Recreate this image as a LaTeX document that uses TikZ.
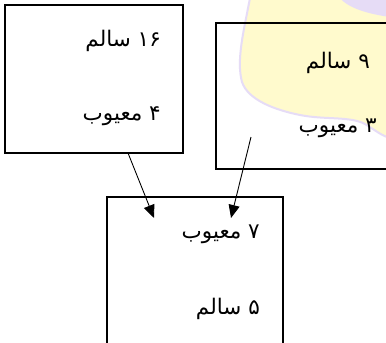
\documentclass[tikz,border=0pt]{standalone}
\usepackage{fontspec}
\usetikzlibrary{arrows.meta}
\TeXXeTstate=1
\newfontfamily\arabicfont[Script=Arabic]{DejaVu Sans}
\definecolor{wmyellow}{HTML}{FFFACD}
\definecolor{wmlav}{HTML}{E6DCF6}
\begin{document}
\begin{tikzpicture}[x=1pt,y=-1pt,
  box/.style={draw=black,line width=1.1pt,minimum width=#1,inner sep=0pt},
  lbl/.style={anchor=east,inner sep=0pt,font=\arabicfont\fontsize{21.5}{24}\selectfont},
  arr/.style={draw=black,line width=0.9pt,-{Triangle[length=13pt,width=11pt]}}]
\useasboundingbox (0,0) rectangle (386,343);
\clip (0,0) rectangle (386,343);
\fill[white] (0,0) rectangle (386,343);
% watermark
\draw[wmlav,line width=2pt,fill=wmyellow] (250,-2) .. controls (244,30) and (236,60) .. (242,82)
  .. controls (248,100) and (275,110) .. (300,115)
  .. controls (325,120) and (350,116) .. (365,124)
  .. controls (375,130) and (382,136) .. (390,138) -- (390,-2) -- cycle;
\fill[wmlav] (340,-2) .. controls (348,8) and (368,14) .. (390,17) -- (390,-2) -- cycle;
% boxes
\node[box=178pt,minimum height=148pt] (L) at (94,79) {};
\node[box=180pt,minimum height=146pt] (R) at (306,96) {};
\node[box=176pt,minimum height=150pt] (B) at (195,272) {};
% labels
\node[lbl] (l1) at (161,41) {\beginR ۱۶ سالم\endR};
\node[lbl] (l2) at (161,116) {\beginR ۴ معیوب\endR};
\node[lbl] (r1) at (370,63) {\beginR ۹ سالم\endR};
\node[lbl] (r2) at (377,128) {\beginR ۳ معیوب\endR};
\node[lbl] (b1) at (260,234) {\beginR ۷ معیوب\endR};
\node[lbl] (b2) at (260,309) {\beginR ۵ سالم\endR};
% connectors
\coordinate (s1) at (128,153);
\coordinate (t1) at (154,218);
\coordinate (s2) at (251,137);
\coordinate (t2) at (231,218);
\draw[arr] (s1) -- (t1);
\draw[arr] (s2) -- (t2);
\end{tikzpicture}
\end{document}
